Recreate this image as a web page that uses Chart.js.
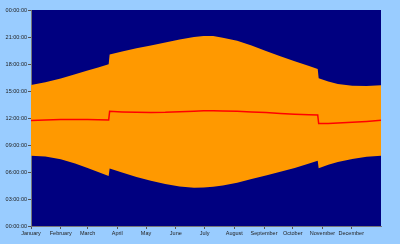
<!DOCTYPE html>
<html lang="en">
<head>
    <meta charset="UTF-8">
    <title>Daylight</title>
    <style>
        body {
            margin: 0;
            padding: 0;
            background-color: #99ccff;
        }
        canvas {
            display: block;
        }
    </style>
    <script src="https://cdn.jsdelivr.net/npm/chart.js"></script>
</head>
<body>
    <canvas id="daylight" width="400" height="244"></canvas>
    <script>
        // day of year for each sample (DST switches appear as two neighbouring days)
        const days = [0, 15, 31, 46, 59, 70, 81, 82, 95, 110, 125, 140, 155, 170, 180, 190,
                      200, 215, 230, 245, 260, 275, 290, 299, 300, 310, 320, 335, 350, 365];
        // hours
        const sunrise = [7.81, 7.72, 7.42, 6.95, 6.45, 6.00, 5.55, 6.38, 5.95, 5.45, 5.02, 4.66, 4.40, 4.26, 4.27, 4.36,
                         4.50, 4.80, 5.22, 5.62, 6.02, 6.45, 6.95, 7.26, 6.42, 6.80, 7.12, 7.45, 7.70, 7.81];
        const sunset = [15.67, 15.98, 16.40, 16.85, 17.28, 17.62, 17.98, 19.06, 19.40, 19.75, 20.05, 20.38, 20.72, 21.00, 21.10, 21.10,
                        20.92, 20.58, 20.05, 19.45, 18.85, 18.30, 17.78, 17.45, 16.42, 16.05, 15.78, 15.58, 15.55, 15.65];
        const noon = [11.72, 11.78, 11.82, 11.83, 11.82, 11.80, 11.78, 12.74, 12.68, 12.64, 12.62, 12.64, 12.70, 12.75, 12.80, 12.80,
                      12.78, 12.74, 12.68, 12.60, 12.50, 12.42, 12.36, 12.33, 11.38, 11.40, 11.45, 11.52, 11.62, 11.74];

        const months = ['January', 'February', 'March', 'April', 'May', 'June',
                        'July', 'August', 'September', 'October', 'November', 'December'];
        const monthStarts = [0, 31, 59, 90, 120, 151, 181, 212, 243, 273, 304, 334];

        const toPoints = (arr) => arr.map((v, i) => ({ x: days[i], y: v }));
        const pad2 = (n) => String(n).padStart(2, '0');

        // dark plot background
        const plotBackground = {
            id: 'plotBackground',
            beforeDraw(chart) {
                const { ctx, chartArea } = chart;
                ctx.save();
                ctx.fillStyle = '#000080';
                ctx.fillRect(chartArea.left, chartArea.top, chartArea.right - chartArea.left, chartArea.bottom - chartArea.top);
                ctx.restore();
            }
        };

        const tickFont = { family: 'Liberation Sans, Arial, sans-serif', size: 5.5 };

        new Chart(document.getElementById('daylight').getContext('2d'), {
            type: 'line',
            data: {
                datasets: [
                    { label: 'Sunrise', data: toPoints(sunrise), borderWidth: 0, pointRadius: 0, fill: false, order: 1 },
                    { label: 'Sunset', data: toPoints(sunset), borderWidth: 0, pointRadius: 0,
                      fill: '-1', backgroundColor: '#ff9900', order: 1 },
                    { label: 'Noon', data: toPoints(noon), borderColor: '#ff0000', borderWidth: 1.5,
                      pointRadius: 0, fill: false, order: 0 }
                ]
            },
            options: {
                responsive: false,
                animation: false,
                elements: { line: { tension: 0 } },
                layout: { padding: { top: 10, right: 19, left: 0, bottom: 0 } },
                plugins: { legend: { display: false }, tooltip: { enabled: false } },
                scales: {
                    x: {
                        type: 'linear',
                        min: 0,
                        max: 365,
                        afterBuildTicks(axis) {
                            axis.ticks = monthStarts.map(v => ({ value: v }));
                        },
                        afterFit(axis) { axis.height = 18; },
                        ticks: {
                            autoSkip: false,
                            maxRotation: 0,
                            padding: 1,
                            color: '#222',
                            font: tickFont,
                            callback: (value) => months[monthStarts.indexOf(value)]
                        },
                        grid: { drawOnChartArea: false, tickLength: 3, color: '#555' },
                        border: { color: '#777' }
                    },
                    y: {
                        min: 0,
                        max: 24,
                        afterFit(axis) { axis.width = 31; },
                        ticks: {
                            stepSize: 3,
                            padding: 1,
                            color: '#222',
                            font: tickFont,
                            callback: (value) => pad2(value % 24) + ':00:00'
                        },
                        grid: { drawOnChartArea: false, tickLength: 3, color: '#555' },
                        border: { color: '#777' }
                    }
                }
            },
            plugins: [plotBackground]
        });
    </script>
</body>
</html>
